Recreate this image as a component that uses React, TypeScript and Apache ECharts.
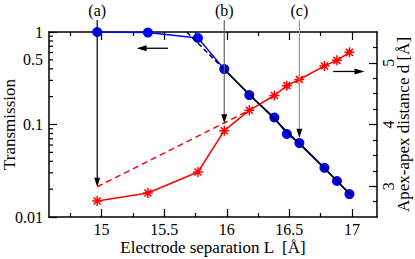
import React, { useEffect, useRef } from 'react';
import * as echarts from 'echarts';

// ---- data ----
const separationL = [14.965, 15.37, 15.77, 15.98, 16.18, 16.38, 16.48, 16.58, 16.78, 16.88, 16.98];
const transmission = [1.0, 0.985, 0.862, 0.397, 0.208, 0.119, 0.079, 0.063, 0.034, 0.0245, 0.0177];
const apexDistance = [2.76, 2.89, 3.23, 3.9, 4.23, 4.47, 4.63, 4.73, 4.95, 5.04, 5.17];

const fitDashedL = [15.68, 15.98];
const fitDashedT = [1.0, 0.394];
const fitSolidL = [15.98, 17.0];
const fitSolidT = [0.394, 0.017];

const distDashedL = [14.965, 16.18];
const distDashedD = [2.99, 4.23];

const xMajorTicks = [15, 15.5, 16, 16.5, 17];
const xMinorTicks = [14.75, 15.25, 15.75, 16.25, 16.75];
const tMinorTicks = [0.02, 0.03, 0.04, 0.05, 0.06, 0.07, 0.08, 0.09, 0.2, 0.3, 0.4, 0.5, 0.6, 0.7, 0.8, 0.9];
const tExtraLabels = [0.5];
const dMajorTicks = [3, 4, 5];
const dMinorTicks = [2.75, 3.25, 3.5, 3.75, 4.25, 4.5, 4.75, 5.25];

const markerLabels = ['(a)', '(b)', '(c)'];
const markerL = [14.965, 15.98, 16.58];
const markerAxis = ['d', 'd', 'T'];
const markerTip = [2.99, 4.02, 0.072];

const leftArrowL = [15.53, 15.28];
const leftArrowT = 0.667;
const rightArrowL = [16.85, 17.1];
const rightArrowD = 4.86;

const X_MIN = 14.58;
const X_MAX = 17.2;

const FONT = 'Liberation Serif';
const BLACK = '#000000';
const BLUE = '#0000ff';
const RED = '#ff0000';
const ASTERISK = 'path://M5,0L5,10M0,5L10,5M1.5,1.5L8.5,8.5M8.5,1.5L1.5,8.5';

const zip = (a: number[], b: number[]) => a.map((v, i) => [v, b[i]]);

function xAxisDef(position: 'top' | 'bottom', major: boolean, showLine: boolean, showLabel: boolean, extra: any = {}) {
  return {
    type: 'value',
    position,
    min: X_MIN,
    max: X_MAX,
    splitLine: { show: false },
    axisLine: { show: showLine, onZero: false, lineStyle: { color: BLACK, width: 1.5 } },
    axisTick: {
      show: true,
      inside: true,
      length: major ? 8 : 4,
      customValues: major ? xMajorTicks : xMinorTicks,
      lineStyle: { color: BLACK, width: 1.2 },
    },
    axisLabel: showLabel
      ? { show: true, customValues: xMajorTicks, fontFamily: FONT, fontSize: 16, color: BLACK, margin: 4 }
      : { show: false },
    ...extra,
  };
}

export default function App() {
  const ref = useRef<HTMLDivElement>(null);

  useEffect(() => {
    document.body.style.margin = '0';
    const chart = echarts.init(ref.current!, null, { renderer: 'svg' });

    const option: any = {
      animation: false,
      backgroundColor: '#ffffff',
      grid: { left: 49, top: 32, right: 38, bottom: 42, outerBoundsMode: 'none' },
      xAxis: [
        xAxisDef('bottom', true, true, true, {
          name: 'Electrode separation L  [Å]',
          nameLocation: 'middle',
          nameGap: 22,
          nameMoveOverlap: false,
          nameTextStyle: { fontFamily: FONT, fontSize: 17, color: BLACK },
        }),
        xAxisDef('bottom', false, false, false),
        xAxisDef('top', true, true, false),
        xAxisDef('top', false, false, false),
      ],
      yAxis: [
        {
          type: 'log',
          logBase: 10,
          position: 'left',
          min: 0.01,
          max: 1,
          splitLine: { show: false },
          axisLine: { show: true, onZero: false, lineStyle: { color: BLACK, width: 1.5 } },
          axisTick: { show: true, inside: true, length: 8, lineStyle: { color: BLACK, width: 1.2 } },
          axisLabel: {
            fontFamily: FONT,
            fontSize: 16,
            color: BLACK,
            margin: 6,
            formatter: (v: number) => String(Number(v.toPrecision(2))),
          },
          name: 'Transmission',
          nameLocation: 'middle',
          nameGap: 31,
          nameRotate: 90,
          nameMoveOverlap: false,
          nameTextStyle: { fontFamily: FONT, fontSize: 17, color: BLACK },
        },
        {
          type: 'value',
          position: 'right',
          min: 2.5,
          max: 5.5,
          splitLine: { show: false },
          axisLine: { show: true, onZero: false, lineStyle: { color: BLACK, width: 1.5 } },
          axisTick: {
            show: true,
            inside: true,
            length: 8,
            customValues: dMajorTicks,
            lineStyle: { color: BLACK, width: 1.2 },
          },
          axisLabel: {
            customValues: dMajorTicks,
            rotate: 90,
            fontFamily: FONT,
            fontSize: 16,
            color: BLACK,
            margin: 3,
          },
          name: 'Apex-apex distance d [Å]',
          nameLocation: 'middle',
          nameGap: 18,
          nameRotate: 90,
          nameMoveOverlap: false,
          nameTextStyle: { fontFamily: FONT, fontSize: 17, color: BLACK },
        },
        {
          type: 'value',
          position: 'right',
          min: 2.5,
          max: 5.5,
          splitLine: { show: false },
          axisLine: { show: false, onZero: false },
          axisTick: {
            show: true,
            inside: true,
            length: 4,
            customValues: dMinorTicks,
            lineStyle: { color: BLACK, width: 1.2 },
          },
          axisLabel: { show: false },
        },
      ],
      series: [
        {
          type: 'line',
          xAxisIndex: 0,
          yAxisIndex: 0,
          data: zip(separationL, transmission),
          symbol: 'circle',
          symbolSize: 10,
          itemStyle: { color: BLUE },
          lineStyle: { color: BLUE, width: 1.5 },
          z: 2,
        },
        {
          type: 'line',
          xAxisIndex: 0,
          yAxisIndex: 0,
          data: zip(fitDashedL, fitDashedT),
          symbol: 'none',
          lineStyle: { color: BLACK, width: 1.5, type: [5, 3] },
          z: 3,
        },
        {
          type: 'line',
          xAxisIndex: 0,
          yAxisIndex: 0,
          data: zip(fitSolidL, fitSolidT),
          symbol: 'none',
          lineStyle: { color: BLACK, width: 1.5 },
          z: 3,
        },
        {
          type: 'line',
          xAxisIndex: 0,
          yAxisIndex: 1,
          data: zip(distDashedL, distDashedD),
          symbol: 'none',
          lineStyle: { color: RED, width: 1.5, type: [6, 4] },
          z: 2,
        },
        {
          type: 'line',
          xAxisIndex: 0,
          yAxisIndex: 1,
          data: zip(separationL, apexDistance),
          symbol: ASTERISK,
          symbolSize: 10,
          itemStyle: { color: RED, borderColor: RED, borderWidth: 1.5 },
          lineStyle: { color: RED, width: 1.5 },
          z: 2,
        },
      ],
    };

    chart.setOption(option);

    const px = (L: number) => chart.convertToPixel({ xAxisIndex: 0 }, L) as number;
    const pyT = (v: number) => chart.convertToPixel({ yAxisIndex: 0 }, v) as number;
    const pyD = (v: number) => chart.convertToPixel({ yAxisIndex: 1 }, v) as number;

    const x0 = px(X_MIN);
    const graphics: any[] = [];

    tMinorTicks.forEach((v) => {
      const y = pyT(v);
      graphics.push({
        type: 'line',
        shape: { x1: x0, y1: y, x2: x0 + 4, y2: y },
        style: { stroke: BLACK, lineWidth: 1.2 },
        z: 50,
      });
    });
    tExtraLabels.forEach((v) => {
      graphics.push({
        type: 'text',
        x: x0 - 6,
        y: pyT(v),
        style: {
          text: String(v),
          font: `16px "${FONT}"`,
          fill: BLACK,
          align: 'right',
          verticalAlign: 'middle',
        },
        z: 50,
      });
    });

    const markerColors = [BLACK, '#666666', '#999999'];
    markerLabels.forEach((lab, i) => {
      const x = px(markerL[i]);
      const tip = markerAxis[i] === 'T' ? pyT(markerTip[i]) : pyD(markerTip[i]);
      graphics.push({
        type: 'line',
        shape: { x1: x, y1: 20, x2: x, y2: tip - 6 },
        style: { stroke: markerColors[i], lineWidth: 1.2 },
        z: 60,
      });
      graphics.push({
        type: 'polygon',
        shape: { points: [[x, tip], [x - 3, tip - 9], [x + 3, tip - 9]] },
        style: { fill: BLACK },
        z: 60,
      });
      graphics.push({
        type: 'text',
        x,
        y: 10,
        style: {
          text: lab,
          font: `16px "${FONT}"`,
          fill: BLACK,
          align: 'center',
          verticalAlign: 'middle',
        },
        z: 60,
      });
    });

    // left-pointing arrow (Transmission axis)
    {
      const y = pyT(leftArrowT);
      const xs = px(leftArrowL[0]);
      const xt = px(leftArrowL[1]);
      graphics.push({
        type: 'line',
        shape: { x1: xs, y1: y, x2: xt + 6, y2: y },
        style: { stroke: BLACK, lineWidth: 1.3 },
        z: 60,
      });
      graphics.push({
        type: 'polygon',
        shape: { points: [[xt, y], [xt + 10, y - 3], [xt + 10, y + 3]] },
        style: { fill: BLACK },
        z: 60,
      });
    }
    // right-pointing arrow (distance axis)
    {
      const y = pyD(rightArrowD);
      const xs = px(rightArrowL[0]);
      const xt = px(rightArrowL[1]);
      graphics.push({
        type: 'line',
        shape: { x1: xs, y1: y, x2: xt - 6, y2: y },
        style: { stroke: BLACK, lineWidth: 1.3 },
        z: 60,
      });
      graphics.push({
        type: 'polygon',
        shape: { points: [[xt, y], [xt - 10, y - 3], [xt - 10, y + 3]] },
        style: { fill: BLACK },
        z: 60,
      });
    }

    chart.setOption({ graphic: graphics });

    return () => chart.dispose();
  }, []);

  return <div ref={ref} style={{ width: 415, height: 259 }} />;
}
